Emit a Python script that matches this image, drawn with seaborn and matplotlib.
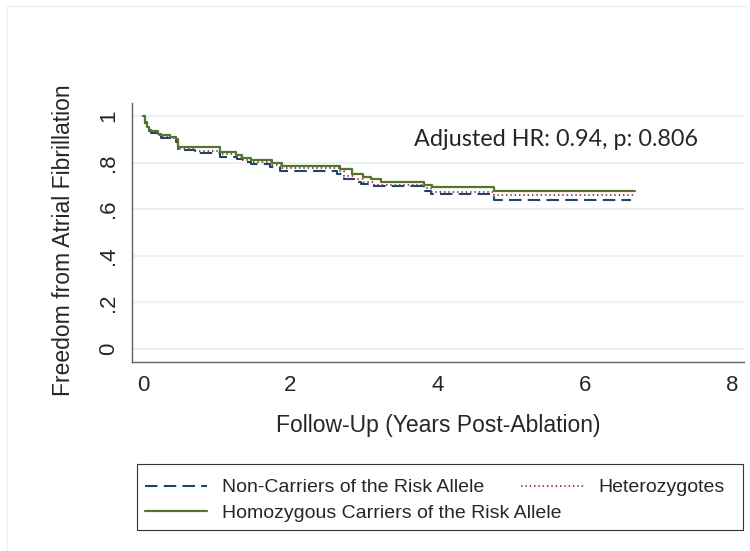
import numpy as np
import pandas as pd
import seaborn as sns
import matplotlib.pyplot as plt
from matplotlib.lines import Line2D
from matplotlib.patches import Rectangle

# Kaplan-Meier step values
non_carrier_t = [0, 0.02, 0.05, 0.08, 0.11, 0.20, 0.25, 0.36, 0.45, 0.48, 0.71, 1.04, 1.27, 1.38,
                 1.47, 1.72, 1.86, 2.64, 2.73, 2.86, 2.96, 3.11, 3.80, 3.91, 4.77, 6.63]
non_carrier_s = [1.0, 0.97, 0.95, 0.935, 0.928, 0.916, 0.908, 0.90, 0.888, 0.853, 0.842, 0.825, 0.815, 0.803,
                 0.795, 0.781, 0.763, 0.753, 0.731, 0.717, 0.71, 0.698, 0.68, 0.665, 0.641, 0.641]

hetero_t = [0, 0.02, 0.05, 0.08, 0.11, 0.20, 0.25, 0.36, 0.45, 0.48, 0.71, 1.04, 1.26, 1.34, 1.47,
            1.75, 1.89, 2.66, 2.73, 2.86, 2.98, 3.13, 3.82, 3.91, 4.77, 6.68]
hetero_s = [1.0, 0.972, 0.952, 0.938, 0.932, 0.92, 0.913, 0.906, 0.893, 0.860, 0.852, 0.838, 0.826, 0.812, 0.802,
            0.788, 0.775, 0.766, 0.744, 0.730, 0.717, 0.706, 0.690, 0.675, 0.659, 0.659]

homo_t = [0, 0.02, 0.05, 0.08, 0.11, 0.20, 0.25, 0.36, 0.45, 0.48, 1.04, 1.26, 1.34, 1.47, 1.75, 1.89,
          2.68, 2.84, 2.98, 3.09, 3.23, 3.82, 3.93, 4.77, 6.68]
homo_s = [1.0, 0.975, 0.955, 0.942, 0.936, 0.925, 0.918, 0.912, 0.900, 0.867, 0.844, 0.832, 0.820, 0.810, 0.797, 0.787,
          0.771, 0.751, 0.740, 0.728, 0.717, 0.705, 0.695, 0.677, 0.677]

groups = ['Non-Carriers of the Risk Allele', 'Heterozygotes', 'Homozygous Carriers of the Risk Allele']
x_ticks = [0, 2, 4, 6, 8]
y_ticks = [0, 0.2, 0.4, 0.6, 0.8, 1]
y_ticklabels = ['0', '.2', '.4', '.6', '.8', '1']
hr_text = 'Adjusted HR: 0.94, p: 0.806'

df = pd.concat([
    pd.DataFrame({'time': non_carrier_t, 'surv': non_carrier_s, 'group': groups[0]}),
    pd.DataFrame({'time': hetero_t, 'surv': hetero_s, 'group': groups[1]}),
    pd.DataFrame({'time': homo_t, 'surv': homo_s, 'group': groups[2]}),
], ignore_index=True)

colors = {groups[0]: '#1a476f', groups[1]: '#90353b', groups[2]: '#55752f'}
dashes = {groups[0]: (6, 3), groups[1]: (0.8, 1.6), groups[2]: ''}
widths = {groups[0]: 1.5, groups[1]: 1.3, groups[2]: 1.6}

sns.set_style('white')
plt.rcParams['font.family'] = ['Liberation Sans', 'DejaVu Sans']

fig = plt.figure(figsize=(7.5, 5.51), dpi=100)
ax = fig.add_axes([0.176, 0.343, 0.816, 0.470])

for g in groups:
    sub = df[df.group == g]
    sns.lineplot(data=sub, x='time', y='surv', ax=ax, color=colors[g], lw=widths[g],
                 drawstyle='steps-post', estimator=None, sort=False, label=g, legend=False)
    if dashes[g]:
        ax.lines[-1].set_dashes(dashes[g])

ax.set_xlim(-0.15, 8.16)
ax.set_ylim(-0.056, 1.056)
ax.set_xticks(x_ticks)
ax.set_yticks(y_ticks)
ax.set_yticklabels(y_ticklabels, rotation=90, va='center')
ax.tick_params(axis='both', direction='out', length=5, width=1, color='#606060', labelsize=16, pad=4)
ax.grid(axis='y', color='#eaf2f3', lw=1.5)
ax.set_axisbelow(True)
for s in ['top', 'right']:
    ax.spines[s].set_visible(False)
for s in ['left', 'bottom']:
    ax.spines[s].set_color('#606060')
    ax.spines[s].set_linewidth(1)

ax.set_xlabel('Follow-Up (Years Post-Ablation)', fontsize=16.5, labelpad=13)
ax.set_ylabel('Freedom from Atrial Fibrillation', fontsize=16.5)
ax.yaxis.set_label_coords(-0.093, 0.469)
ax.text(0.460, 0.86, hr_text, transform=ax.transAxes, fontsize=16.8, family=['Lato', 'DejaVu Sans'],
        ha='left', va='center')

# legend in a box below the axes
handles = [Line2D([], [], color=colors[g], lw=widths[g], dashes=dashes[g] if dashes[g] else (None, None))
           for g in groups]
fig.legend([handles[0], handles[2], handles[1]], [groups[0], groups[2], groups[1]],
           ncol=2, frameon=False, loc='upper left', bbox_to_anchor=(135 / 750, 1 - 469 / 551),
           bbox_transform=fig.transFigure, fontsize=14, handlelength=3.2, handletextpad=0.77,
           labelspacing=0.4, columnspacing=-2.06, borderpad=0)
fig.patches.append(Rectangle((137 / 750, 1 - 530 / 551), 606 / 750, 66 / 551, transform=fig.transFigure,
                             fill=False, ec='#333333', lw=0.8))

# faint graph region outline
fig.add_artist(Line2D([7 / 750, 1.0], [1 - 6 / 551, 1 - 6 / 551], transform=fig.transFigure, color='#eaf2f3', lw=1))
fig.add_artist(Line2D([7 / 750, 7 / 750], [0, 1 - 6 / 551], transform=fig.transFigure, color='#eaf2f3', lw=1))

fig.savefig('out.png', dpi=100)
